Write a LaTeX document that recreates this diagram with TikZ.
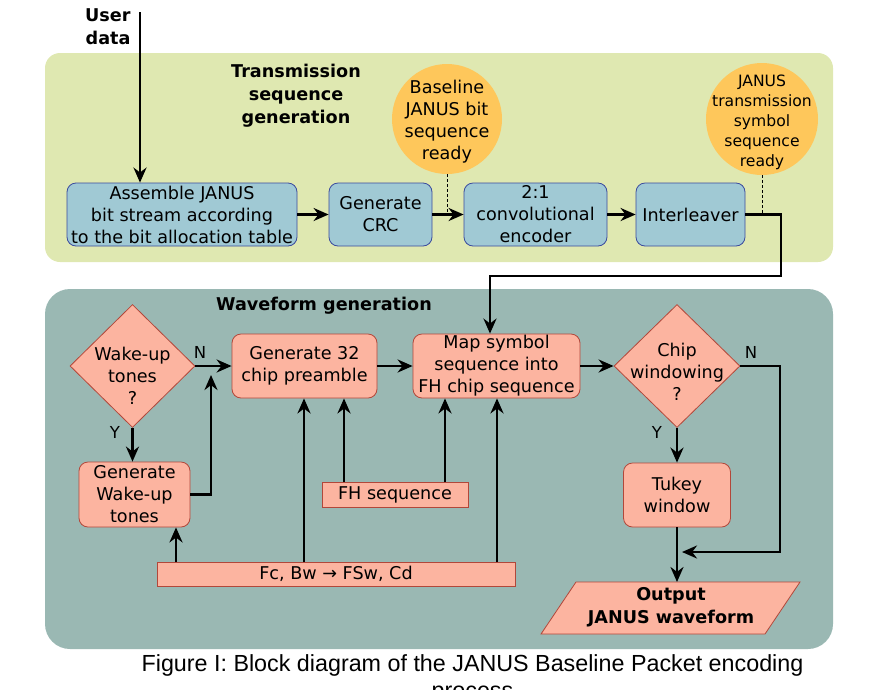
\documentclass[tikz,border=0pt]{standalone}
\usepackage{fontspec}
\setmainfont{DejaVu Sans}
\newfontfamily\capfont{Liberation Sans}
\usetikzlibrary{shapes.geometric,arrows.meta}

\definecolor{txpanel}{HTML}{DFE8B1}
\definecolor{wfpanel}{HTML}{9AB8B3}
\definecolor{txfill}{HTML}{A0C9D4}
\definecolor{txline}{HTML}{3A4A9E}
\definecolor{wffill}{HTML}{FCB4A0}
\definecolor{wfline}{HTML}{B2473A}
\definecolor{readyfill}{HTML}{FEC75B}

\tikzset{
  txbox/.style={draw=txline, fill=txfill, line width=0.8pt, rounded corners=9, inner sep=0, align=center, font=\fontsize{17.6}{22}\selectfont},
  wfbox/.style={draw=wfline, fill=wffill, line width=0.8pt, rounded corners=9, inner sep=0, align=center, font=\fontsize{17.6}{22}\selectfont},
  inbox/.style={draw=wfline, fill=wffill, line width=0.8pt, inner sep=0, font=\fontsize{17.6}{20}\selectfont},
  decide/.style={draw=wfline, fill=wffill, line width=0.8pt, diamond, inner sep=0, aspect=1},
  ready/.style={fill=readyfill, circle, inner sep=0},
  lbl/.style={align=center, font=\fontsize{17.6}{22}\selectfont},
  ttl/.style={align=center, font=\bfseries\fontsize{17.6}{23}\selectfont},
  yn/.style={font=\fontsize{16.5}{18}\selectfont},
  flow/.style={->, >={Stealth[length=15pt,width=13pt]}, line width=2.8pt},
  hint/.style={densely dashed, line width=1pt},
}

\begin{document}
\begin{tikzpicture}[x=1pt, y=-1pt]
  \useasboundingbox (0,0) rectangle (873,689);

  \fill[txpanel, rounded corners=15] (45,53) rectangle (833,262); % transmission panel
  \fill[wfpanel, rounded corners=25] (45,289) rectangle (833,649); % waveform panel

  % transmission sequence generation
  \node[ttl] (txtitle) at (296,96) {Transmission\\sequence\\generation};
  \node[ttl, align=right, anchor=east] (user) at (134,27) {User\\data};
  \coordinate (ud) at (140,12);

  \node[txbox, minimum width=230, minimum height=63] (asm) at (182,214.5) {Assemble JANUS\\bit stream according\\to the bit allocation table};
  \node[txbox, minimum width=103, minimum height=63] (crc) at (380.5,214.5) {Generate\\CRC};
  \node[txbox, minimum width=143, minimum height=63] (conv) at (535.5,214.5) {2:1\\convolutional\\encoder};
  \node[txbox, minimum width=109, minimum height=63] (intl) at (690.5,214.5) {Interleaver};

  \node[ready, minimum size=110] (rdybit) at (447,119) {};
  \node[lbl] (rdybitt) at (447,122) {Baseline\\JANUS bit\\sequence\\ready};
  \node[ready, minimum size=112] (rdysym) at (762,119) {};
  \node[lbl, font=\fontsize{15.6}{20}\selectfont] (rdysymt) at (762,122) {JANUS\\transmission\\symbol\\sequence\\ready};

  \draw[hint] (rdybit.south) -- (rdybit.south |- crc.east);
  \draw[hint] (rdysym.south) -- (rdysym.south |- intl.east);

  \draw[flow] (ud) -- (asm.north -| ud);
  \draw[flow] (asm.east) -- (crc.west);
  \draw[flow] (crc.east) -- (conv.west);
  \draw[flow] (conv.east) -- (intl.west);

  % waveform generation
  \node[ttl] (wftitle) at (324,306) {Waveform generation};

  \node[decide, minimum width=125, minimum height=123] (wake) at (132.5,366) {};
  \node[lbl] (waket) at (132.5,376) {Wake-up\\tones\\?};
  \node[wfbox, minimum width=145, minimum height=64] (gen) at (304.5,366) {Generate 32\\chip preamble};
  \node[wfbox, minimum width=111, minimum height=65] (wkgen) at (134.5,494.5) {Generate\\Wake-up\\tones};
  \node[wfbox, minimum width=167, minimum height=64] (map) at (496.5,366) {Map symbol\\sequence into\\FH chip sequence};
  \node[decide, minimum width=126, minimum height=123] (chip) at (677,366) {};
  \node[lbl] (chipt) at (677,372) {Chip\\windowing\\?};
  \node[wfbox, minimum width=107, minimum height=64] (tukey) at (677,495) {Tukey\\window};
  \node[inbox, minimum width=146, minimum height=25] (fh) at (395,494.5) {FH sequence};
  \node[inbox, minimum width=358, minimum height=24] (fc) at (336,574) {Fc, Bw → FSw, Cd};

  \filldraw[draw=wfline, fill=wffill, line width=0.8pt] (541,634) -- (576,582) -- (800,582) -- (765,634) -- cycle; % output
  \node[ttl] (out) at (671,607) {Output\\JANUS waveform};

  \node[yn] (n1) at (200,352) {N};
  \node[yn] (y1) at (115,432) {Y};
  \node[yn] (n2) at (751,352) {N};
  \node[yn] (y2) at (657,432) {Y};

  \coordinate (bend) at (781,276);
  \coordinate (mapin) at (490,276);
  \draw[flow] (intl.east) -| (bend) -- (mapin) -- (mapin |- map.north);

  \draw[flow] (wake.east) -- (gen.west);
  \draw[flow] (wake.south) -- (wake.south |- wkgen.north);
  \coordinate (wkup) at (211,375);
  \draw[flow] (wkgen.east) -| (wkup);
  \draw[flow] (gen.east) -- (map.west);
  \draw[flow] (map.east) -- (chip.west);
  \draw[flow] (chip.south) -- (tukey.north);
  \coordinate (outtop) at (677,582);
  \draw[flow] (tukey.south) -- (outtop);
  \coordinate (skip) at (780,552);
  \coordinate (skipend) at (682,552);
  \draw[flow] (chip.east) -| (skip) -- (skipend);

  \coordinate (fh1) at (344,482);
  \coordinate (fh2) at (445,482);
  \coordinate (fc1) at (176,562);
  \coordinate (fc2) at (304,562);
  \coordinate (fc3) at (497,562);
  \foreach \c/\n in {fh1/gen, fh2/map, fc1/wkgen, fc2/gen, fc3/map}
    \draw[flow] (\c) -- (\c |- \n.south);

  % caption
  \node[anchor=base, font=\capfont\fontsize{23.3}{27}\selectfont] (cap) at (472.5,671) {Figure I: Block diagram of the JANUS Baseline Packet encoding};
  \node[anchor=base, font=\capfont\fontsize{23.3}{27}\selectfont] (cap2) at (472.5,698) {process};
\end{tikzpicture}
\end{document}
